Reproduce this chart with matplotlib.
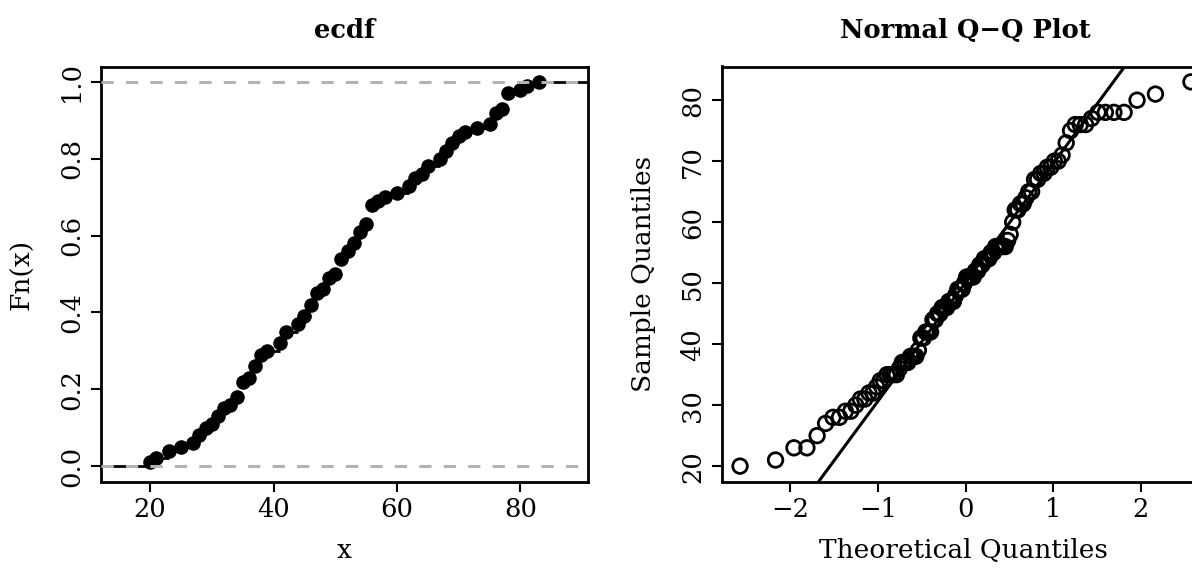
import numpy as np
import matplotlib
matplotlib.use("Agg")
import matplotlib.pyplot as plt
from statistics import NormalDist

# ---- data: distinct sample values and how often each occurs (n = 100) ----
values = [20, 21, 23, 25, 27, 28, 29, 30, 31, 32, 33, 34, 35, 36, 37, 38, 39,
          41, 42, 44, 45, 46, 47, 48, 49, 50, 51, 52, 53, 54, 55, 56, 57, 58,
          60, 62, 63, 64, 65, 67, 68, 69, 70, 71, 73, 75, 76, 77, 78, 80, 81, 83]
counts = [1, 1, 2, 1, 1, 2, 2, 1, 2, 2, 1, 2, 4, 1, 3, 3, 1,
          2, 3, 2, 2, 3, 3, 1, 3, 1, 4, 2, 2, 3, 2, 5, 1, 1,
          1, 2, 2, 1, 2, 2, 2, 2, 2, 1, 1, 1, 3, 1, 4, 1, 1, 1]

ecdf_xticks = [20, 40, 60, 80]
ecdf_yticks = [0.0, 0.2, 0.4, 0.6, 0.8, 1.0]
qq_xticks = [-2, -1, 0, 1, 2]
qq_yticks = [20, 30, 40, 50, 60, 70, 80]

sample = np.sort(np.repeat(values, counts)).astype(float)
n = len(sample)

FONT = ["DejaVu Serif"]
plt.rcParams["font.family"] = FONT

W, H = 1192, 573
fig = plt.figure(figsize=(W / 100, H / 100), dpi=100)
fig.patch.set_facecolor("white")

def px_axes(x0, y0, x1, y1):
    return fig.add_axes([x0 / W, 1 - y1 / H, (x1 - x0) / W, (y1 - y0) / H])

GRAY = "#B3B3B3"
TICKFS = 18.5
LABFS = 19
TITLEFS = 18.5

def style(ax):
    for s in ax.spines.values():
        s.set_linewidth(2.0)
        s.set_color("black")
    ax.tick_params(direction="out", length=7, width=1.5, labelsize=TICKFS,
                   colors="black")
    ax.tick_params(axis="x", pad=4)
    ax.tick_params(axis="y", pad=5)
    for lab in ax.get_yticklabels():
        lab.set_rotation(90)
        lab.set_va("center")

# ---------------- ECDF ----------------
ax1 = px_axes(101, 66.5, 588, 481.5)
knots = np.unique(sample)
Fn = np.array([np.mean(sample <= k) for k in knots])
rx = knots[-1] - knots[0]
dr = max(0.08 * rx, np.median(np.diff(knots)))
xl = (knots[0] - dr, knots[-1] + dr)
ext = 0.04 * (xl[1] - xl[0])
ax1.set_xlim(xl[0] - ext, xl[1] + ext)
ax1.set_ylim(-0.04, 1.04)
ti = np.concatenate([[xl[0] - dr], knots, [xl[1] + dr]])
yi = np.concatenate([[0.0], Fn])
ax1.hlines(yi, ti[:-1], ti[1:], colors="black", linewidth=2.0, zorder=2)
ax1.scatter(knots, Fn, s=110, color="black", zorder=3, linewidths=0)
for h in (0.0, 1.0):
    ax1.axhline(h, color=GRAY, linewidth=2.2, linestyle=(0, (4, 4)), zorder=4)
ax1.set_xticks(ecdf_xticks)
ax1.set_xticklabels([str(t) for t in ecdf_xticks])
ax1.set_yticks(ecdf_yticks)
ax1.set_yticklabels([f"{t:.1f}" for t in ecdf_yticks])
style(ax1)

# ---------------- Normal Q-Q ----------------
ax2 = px_axes(722, 66.5, 1209, 481.5)
nd = NormalDist()
pp = (np.arange(1, n + 1) - 0.5) / n
theo = np.array([nd.inv_cdf(p) for p in pp])
tx = (theo.min(), theo.max())
te = 0.04 * (tx[1] - tx[0])
ax2.set_xlim(tx[0] - te, tx[1] + te)
sy = (sample.min(), sample.max())
se = 0.04 * (sy[1] - sy[0])
ax2.set_ylim(sy[0] - se, sy[1] + se)
ax2.scatter(theo, sample, s=110, facecolors="none", edgecolors="black",
            linewidths=2.0, zorder=3, clip_on=True)
q1, q3 = np.percentile(sample, [25, 75])
x1, x3 = nd.inv_cdf(0.25), nd.inv_cdf(0.75)
slope = (q3 - q1) / (x3 - x1)
inter = q1 - slope * x1
ax2.axline((0, inter), slope=slope, color="black", linewidth=2.2, zorder=2)
ax2.set_xticks(qq_xticks)
ax2.set_xticklabels(["\u2212" + str(-t) if t < 0 else str(t) for t in qq_xticks])
ax2.set_yticks(qq_yticks)
ax2.set_yticklabels([str(t) for t in qq_yticks])
style(ax2)

# ---------------- texts ----------------
def ftext(x, y, s, **kw):
    fig.text(x / W, 1 - y / H, s, ha="center", va="center", **kw)

ftext(344.5, 31, "ecdf", fontsize=TITLEFS, fontweight="bold")
ftext(965.5, 31, "Normal Q\u2212Q Plot", fontsize=TITLEFS, fontweight="bold")
ftext(344.5, 551, "x", fontsize=LABFS)
ftext(963, 551, "Theoretical Quantiles", fontsize=LABFS)
ftext(22, 274, "Fn(x)", fontsize=LABFS, rotation=90)
ftext(643, 274, "Sample Quantiles", fontsize=LABFS, rotation=90)

fig.savefig("out.png", dpi=100, facecolor="white")
